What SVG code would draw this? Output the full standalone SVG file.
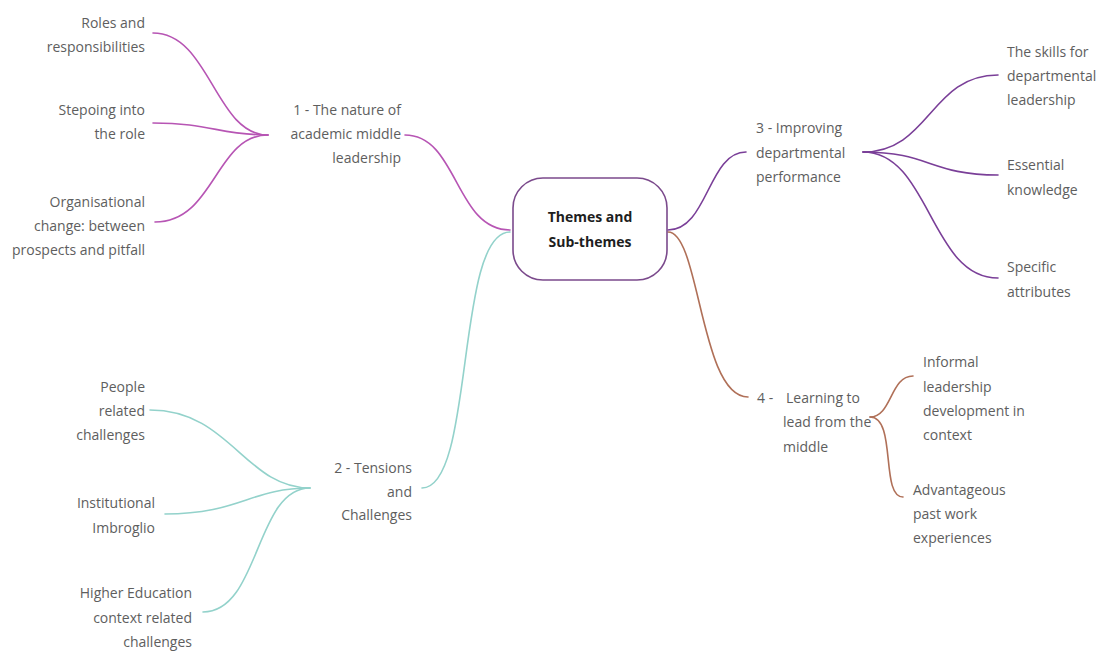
<svg xmlns="http://www.w3.org/2000/svg" width="1099" height="651" viewBox="0 0 1099 651">
  <style>
    .t { font-family: "Open Sans", "Liberation Sans", sans-serif; font-size: 14px; fill: #5e5e5e; }
    .r { text-anchor: end; }
    .hub { font-family: "Open Sans", "Liberation Sans", sans-serif; font-size: 14px; font-weight: bold; fill: #1e1e1e; text-anchor: middle; }
    .c { fill: none; stroke-width: 1.6; stroke-linecap: round; }
    .b1 { stroke: #b755b4; }
    .b2 { stroke: #93d2cb; }
    .b3 { stroke: #7a3f98; }
    .b4 { stroke: #b07058; }
  </style>
  <rect width="1099" height="651" fill="#ffffff"/>

  <!-- connectors -->
  <g id="connectors">
    <!-- hub to main themes -->
    <path class="c b1" d="M405,135 C458,135 455,230 510,230"/>
    <path class="c b2" d="M422,488 C475,488 455,232 510,232"/>
    <path class="c b3" d="M668,230 C708,230 708,152 746,152"/>
    <path class="c b4" d="M668,232 C700,232 700,397 748,397"/>
    <!-- theme 1 sub-themes -->
    <path class="c b1" d="M268,135 C215,135 210,33 153,33"/>
    <path class="c b1" d="M268,135 C220,135 210,123 153,123"/>
    <path class="c b1" d="M268,135 C215,135 215,222 155,222"/>
    <!-- theme 2 sub-themes -->
    <path class="c b2" d="M310,488 C245,488 230,410 150,410"/>
    <path class="c b2" d="M310,488 C250,488 240,514 165,514"/>
    <path class="c b2" d="M310,488 C255,488 260,612 203,612"/>
    <!-- theme 3 sub-themes -->
    <path class="c b3" d="M863,152 C930,152 930,75 998,75"/>
    <path class="c b3" d="M863,152 C930,152 930,175 998,175"/>
    <path class="c b3" d="M863,152 C930,152 930,278 998,278"/>
    <!-- theme 4 sub-themes -->
    <path class="c b4" d="M870,417 C892,417 890,376 913,376"/>
    <path class="c b4" d="M870,417 C897,417 880,497 903,497"/>
  </g>

  <!-- central node -->
  <g id="hub">
    <rect x="513" y="178" width="154" height="102" rx="30" ry="30" fill="#ffffff" stroke="#7b4a8c" stroke-width="1.6"/>
    <text class="hub" x="590" y="222">Themes and</text>
    <text class="hub" x="590" y="247">Sub-themes</text>
  </g>

  <!-- theme 1 -->
  <g id="theme1">
    <text class="t r" x="401" y="115">1 - The nature of</text>
    <text class="t r" x="401" y="139">academic middle</text>
    <text class="t r" x="401" y="163">leadership</text>
  </g>
  <g id="theme1-roles">
    <text class="t r" x="145" y="28">Roles and</text>
    <text class="t r" x="145" y="52">responsibilities</text>
  </g>
  <g id="theme1-stepping">
    <text class="t r" x="145" y="115">Stepoing into</text>
    <text class="t r" x="145" y="139">the role</text>
  </g>
  <g id="theme1-change">
    <text class="t r" x="145" y="207">Organisational</text>
    <text class="t r" x="145" y="231">change: between</text>
    <text class="t r" x="145" y="255">prospects and pitfall</text>
  </g>

  <!-- theme 2 -->
  <g id="theme2">
    <text class="t r" x="412" y="473">2 - Tensions</text>
    <text class="t r" x="412" y="497">and</text>
    <text class="t r" x="412" y="520">Challenges</text>
  </g>
  <g id="theme2-people">
    <text class="t r" x="145" y="392">People</text>
    <text class="t r" x="145" y="416">related</text>
    <text class="t r" x="145" y="440">challenges</text>
  </g>
  <g id="theme2-institutional">
    <text class="t r" x="155" y="508">Institutional</text>
    <text class="t r" x="155" y="533">Imbroglio</text>
  </g>
  <g id="theme2-he">
    <text class="t r" x="192" y="598">Higher Education</text>
    <text class="t r" x="192" y="623">context related</text>
    <text class="t r" x="192" y="647">challenges</text>
  </g>

  <!-- theme 3 -->
  <g id="theme3">
    <text class="t" x="756" y="133">3 - Improving</text>
    <text class="t" x="756" y="158">departmental</text>
    <text class="t" x="756" y="182">performance</text>
  </g>
  <g id="theme3-skills">
    <text class="t" x="1007" y="57">The skills for</text>
    <text class="t" x="1007" y="81">departmental</text>
    <text class="t" x="1007" y="105">leadership</text>
  </g>
  <g id="theme3-knowledge">
    <text class="t" x="1007" y="170">Essential</text>
    <text class="t" x="1007" y="195">knowledge</text>
  </g>
  <g id="theme3-attributes">
    <text class="t" x="1007" y="272">Specific</text>
    <text class="t" x="1007" y="297">attributes</text>
  </g>

  <!-- theme 4 -->
  <g id="theme4">
    <text class="t" x="757" y="403">4 -</text>
    <text class="t" x="786" y="403">Learning to</text>
    <text class="t" x="783" y="427">lead from the</text>
    <text class="t" x="783" y="452">middle</text>
  </g>
  <g id="theme4-informal">
    <text class="t" x="923" y="367">Informal</text>
    <text class="t" x="923" y="392">leadership</text>
    <text class="t" x="923" y="416">development in</text>
    <text class="t" x="923" y="440">context</text>
  </g>
  <g id="theme4-past">
    <text class="t" x="913" y="495">Advantageous</text>
    <text class="t" x="913" y="519">past work</text>
    <text class="t" x="913" y="543">experiences</text>
  </g>
</svg>
